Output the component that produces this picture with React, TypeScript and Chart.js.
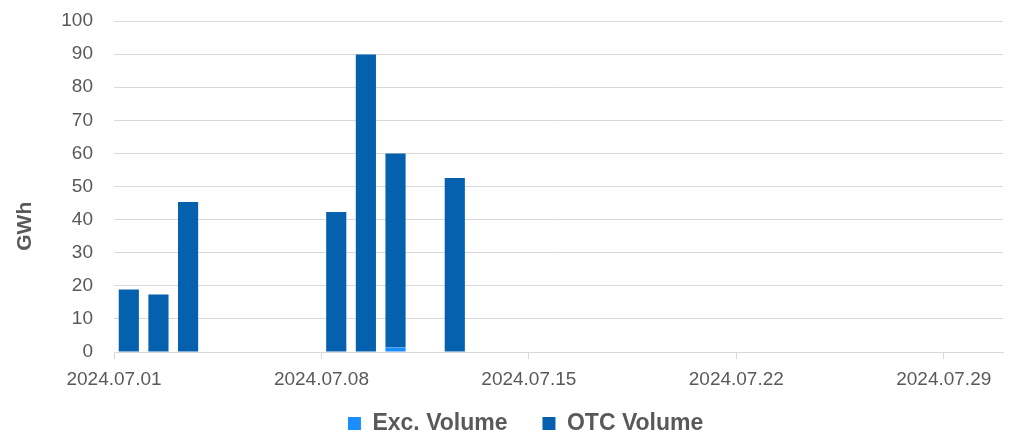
import React, { useEffect, useRef } from "react";
import { Chart, registerables } from "chart.js";

Chart.register(...registerables);

const dates = ["2024.07.01", "2024.07.02", "2024.07.03", "2024.07.08", "2024.07.09", "2024.07.10", "2024.07.12"];
const excVolume = [0, 0, 0, 0, 0, 1.4, 0];
const otcVolume = [18.9, 17.4, 45.3, 42.3, 89.9, 58.6, 52.6];
const axisStart = "2024.07.01";
const axisDays = 30;
const yTitle = "GWh";

const dayIndex = (s: string) => {
  const [y, m, d] = s.split(".").map(Number);
  const [y0, m0, d0] = axisStart.split(".").map(Number);
  return Math.round((Date.UTC(y, m - 1, d) - Date.UTC(y0, m0 - 1, d0)) / 86400000);
};
const labelFor = (v: number) => {
  const [y0, m0, d0] = axisStart.split(".").map(Number);
  const dt = new Date(Date.UTC(y0, m0 - 1, d0) + v * 86400000);
  const mm = String(dt.getUTCMonth() + 1).padStart(2, "0");
  const dd = String(dt.getUTCDate()).padStart(2, "0");
  return `${dt.getUTCFullYear()}.${mm}.${dd}`;
};

const font = "'Liberation Sans', Arial, sans-serif";

const yTitlePlugin = {
  id: "yTitle",
  afterDraw(chart: any) {
    const { ctx, chartArea } = chart;
    ctx.save();
    ctx.translate(25, chartArea.top + (chartArea.bottom - chartArea.top) * 0.62);
    ctx.rotate(-Math.PI / 2);
    ctx.font = `bold 21px ${font}`;
    ctx.fillStyle = "#595959";
    ctx.textAlign = "center";
    ctx.textBaseline = "middle";
    ctx.fillText(yTitle, 0, 0);
    ctx.restore();
  },
};

export default function App() {
  const ref = useRef<HTMLCanvasElement>(null);
  useEffect(() => {
    const chart = new Chart(ref.current!, {
      type: "bar",
      data: {
        datasets: [
          {
            label: "Exc. Volume",
            data: dates.map((d, i) => ({ x: dayIndex(d) + 0.5, y: excVolume[i] })),
            backgroundColor: "#1A8DFF",
            barPercentage: 0.68,
            categoryPercentage: 1,
          },
          {
            label: "OTC Volume",
            data: dates.map((d, i) => ({ x: dayIndex(d) + 0.5, y: otcVolume[i] })),
            backgroundColor: "#0561AD",
            barPercentage: 0.68,
            categoryPercentage: 1,
          },
        ],
      },
      options: {
        responsive: false,
        animation: false,
        layout: { padding: { top: 21, right: 26, left: 61, bottom: 0 } },
        plugins: {
          tooltip: { enabled: false },
          legend: {
            position: "bottom",
            maxHeight: 23,
            labels: {
              boxWidth: 13,
              boxHeight: 13,
              padding: 3,
              color: "#595959",
              font: { family: font, size: 23, weight: "bold" },
              generateLabels: (chart: any) => {
                const items = Chart.defaults.plugins.legend.labels.generateLabels(chart);
                items.forEach((it: any, i: number) => {
                  it.text = it.text + (i === 0 ? "     " : "  ");
                  it.lineWidth = 0;
                  it.strokeStyle = "transparent";
                });
                return items;
              },
            },
          },
        },
        scales: {
          x: {
            type: "linear",
            stacked: true,
            min: 0,
            max: axisDays,
            offset: false,
            afterFit: (s: any) => {
              s.height = 57;
            },
            grid: {
              offset: false,
              drawOnChartArea: false,
              drawTicks: true,
              tickLength: 7,
              color: "#d9d9d9",
            },
            border: { display: true, color: "#d9d9d9", width: 1 },
            ticks: {
              stepSize: 7,
              includeBounds: false,
              maxRotation: 0,
              autoSkip: false,
              color: "#595959",
              padding: 9,
              font: { family: font, size: 19 },
              callback: (v: any) => labelFor(Number(v)),
            },
          },
          y: {
            stacked: true,
            min: 0,
            max: 100,
            grid: { color: "#d9d9d9", drawTicks: true, tickLength: 21, tickColor: "transparent" },
            border: { display: false },
            afterFit: (s: any) => {
              s.width = 53;
            },
            ticks: {
              stepSize: 10,
              color: "#595959",
              padding: 0,
              font: { family: font, size: 19 },
            },
          },
        },
      },
      plugins: [yTitlePlugin],
    });
    return () => chart.destroy();
  }, []);
  return (
    <div style={{ position: "fixed", left: 0, top: 0, width: 1029, height: 432, background: "#fff" }}>
      <canvas ref={ref} width={1029} height={432} />
    </div>
  );
}
